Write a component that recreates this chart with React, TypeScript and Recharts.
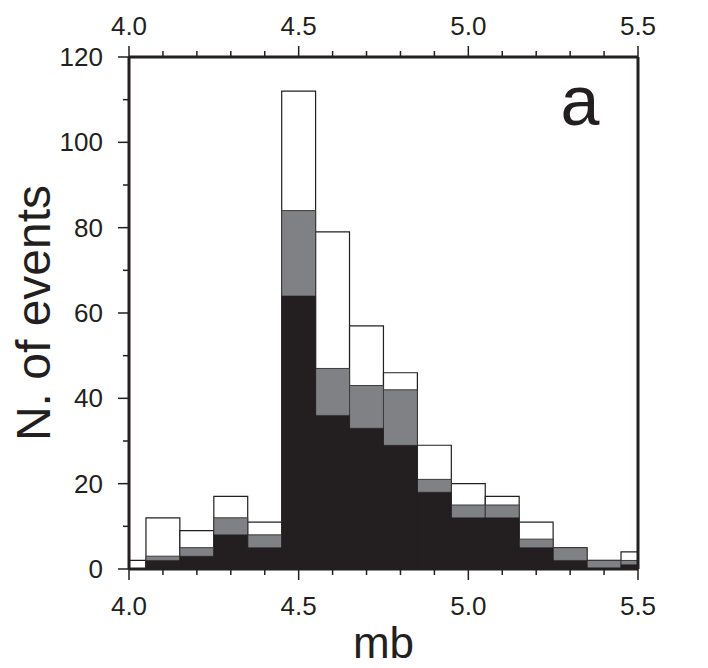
import { ComposedChart, Bar, XAxis, YAxis } from "recharts";

// magnitude bins (centres), width 0.1
const binCenters = [4.0, 4.1, 4.2, 4.3, 4.4, 4.5, 4.6, 4.7, 4.8, 4.9, 5.0, 5.1, 5.2, 5.3, 5.4, 5.5];
const allEvents = [2, 12, 9, 17, 11, 112, 79, 57, 46, 29, 20, 17, 11, 5, 2, 4];
const greyEvents = [0, 3, 5, 12, 8, 84, 47, 43, 42, 21, 15, 15, 7, 5, 2, 2];
const blackEvents = [0, 2, 3, 8, 5, 64, 36, 33, 29, 18, 12, 12, 5, 2, 0, 1];

const xTicks = [4.0, 4.1, 4.2, 4.3, 4.4, 4.5, 4.6, 4.7, 4.8, 4.9, 5.0, 5.1, 5.2, 5.3, 5.4, 5.5];
const yTicks = [0, 10, 20, 30, 40, 50, 60, 70, 80, 90, 100, 110, 120];

const data = binCenters.map((mb, i) => ({
  mb,
  all: allEvents[i],
  grey: greyEvents[i],
  black: blackEvents[i],
}));

const W = 708;
const H = 668;
const LEFT = 129;
const RIGHT = 70;
const TOP = 57;
const BOTTOM = 99;
const xMin = 4.0;
const xMax = 5.5;
const binWidth = 0.1;
// recharts shrinks bars to 90% when barSize reaches the band, so stay a hair under it
const barSize = ((W - LEFT - RIGHT) * binWidth) / (xMax - xMin) - 0.05;

const INK = "#231f20";
const FONT = "'Liberation Sans', Arial, Helvetica, sans-serif";

const XTick = ({ x, y, payload, side }: any) => {
  const major = Math.round(payload.value * 10) % 5 === 0;
  const dir = side === "top" ? -1 : 1;
  const len = major ? 11 : 6;
  return (
    <g>
      <line x1={x} x2={x} y1={y} y2={y + dir * len} stroke={INK} strokeWidth={1.5} />
      {major && (
        <text
          x={x}
          y={side === "top" ? y - 22 : y + 46}
          textAnchor="middle"
          fontSize={26}
          fontFamily={FONT}
          fill={INK}
        >
          {payload.value.toFixed(1)}
        </text>
      )}
    </g>
  );
};

const YTick = ({ x, y, payload, side }: any) => {
  const major = payload.value % 20 === 0;
  const dir = side === "left" ? -1 : 1;
  const len = major ? 11 : 6;
  return (
    <g>
      <line x1={x} x2={x + dir * len} y1={y} y2={y} stroke={INK} strokeWidth={1.5} />
      {major && (
        <text
          x={x + dir * (side === "left" ? 26 : 24)}
          y={y}
          dy={9}
          textAnchor={side === "left" ? "end" : "start"}
          fontSize={26}
          fontFamily={FONT}
          fill={INK}
        >
          {payload.value}
        </text>
      )}
    </g>
  );
};

export default function App() {
  return (
    <div style={{ position: "absolute", left: 0, top: 0, width: W, height: H, background: "#fff" }}>
      <ComposedChart width={W} height={H} data={data} margin={{ top: 0, right: 0, bottom: 0, left: 0 }}>
        <Bar
          dataKey="all"
          xAxisId="bottom"
          yAxisId="left"
          barSize={barSize}
          fill="#ffffff"
          stroke={INK}
          strokeWidth={1.2}
          isAnimationActive={false}
        />
        <Bar
          dataKey="grey"
          xAxisId="top"
          yAxisId="left"
          barSize={barSize}
          fill="#808184"
          stroke="#3c3a3b"
          strokeWidth={1}
          isAnimationActive={false}
        />
        <Bar
          dataKey="black"
          xAxisId="hidden"
          yAxisId="left"
          barSize={barSize}
          fill={INK}
          stroke={INK}
          strokeWidth={0.5}
          isAnimationActive={false}
        />
        <XAxis
          xAxisId="bottom"
          orientation="bottom"
          type="number"
          dataKey="mb"
          domain={[xMin, xMax]}
          ticks={xTicks}
          interval={0}
          allowDataOverflow
          height={BOTTOM}
          axisLine={{ stroke: INK, strokeWidth: 3 }}
          tickLine={false}
          tickSize={0}
          tickMargin={0}
          tick={<XTick side="bottom" />}
          label={{
            content: ({ viewBox }: any) => (
              <text
                x={viewBox.x + viewBox.width / 2}
                y={viewBox.y + 89}
                textAnchor="middle"
                fontSize={44}
                fontFamily={FONT}
                fill={INK}
              >
                mb
              </text>
            ),
          }}
        />
        <XAxis
          xAxisId="top"
          orientation="top"
          type="number"
          dataKey="mb"
          domain={[xMin, xMax]}
          ticks={xTicks}
          interval={0}
          allowDataOverflow
          height={TOP}
          axisLine={{ stroke: INK, strokeWidth: 3 }}
          tickLine={false}
          tickSize={0}
          tickMargin={0}
          tick={<XTick side="top" />}
          label={{
            content: ({ viewBox }: any) => (
              <text
                x={viewBox.x + viewBox.width - 58}
                y={viewBox.y + viewBox.height + 68}
                textAnchor="middle"
                fontSize={70}
                fontFamily={FONT}
                fill={INK}
              >
                a
              </text>
            ),
          }}
        />
        <XAxis xAxisId="hidden" type="number" dataKey="mb" domain={[xMin, xMax]} allowDataOverflow hide />
        <YAxis
          yAxisId="left"
          orientation="left"
          type="number"
          domain={[0, 120]}
          ticks={yTicks}
          interval={0}
          width={LEFT}
          axisLine={{ stroke: INK, strokeWidth: 3 }}
          tickLine={false}
          tickSize={0}
          tickMargin={0}
          tick={<YTick side="left" />}
          label={{
            content: ({ viewBox }: any) => {
              const cx = viewBox.x + 33;
              const cy = viewBox.y + viewBox.height / 2;
              return (
                <text
                  x={cx}
                  y={cy}
                  transform={`rotate(-90 ${cx} ${cy})`}
                  textAnchor="middle"
                  dominantBaseline="central"
                  fontSize={48}
                  fontFamily={FONT}
                  fill={INK}
                >
                  N. of events
                </text>
              );
            },
          }}
        />
        <YAxis
          yAxisId="right"
          orientation="right"
          type="number"
          domain={[0, 120]}
          ticks={yTicks}
          interval={0}
          width={RIGHT}
          axisLine={{ stroke: INK, strokeWidth: 3 }}
          tickLine={false}
          tickSize={0}
          tickMargin={0}
          tick={<YTick side="right" />}
        />
      </ComposedChart>
    </div>
  );
}
